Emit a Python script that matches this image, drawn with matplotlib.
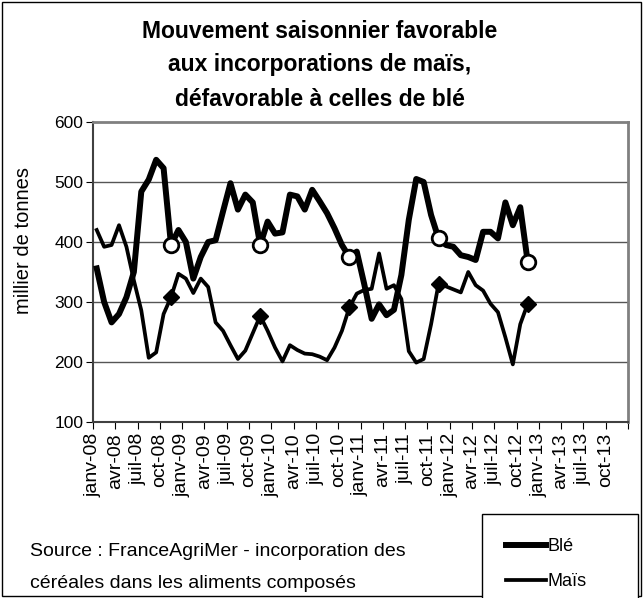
import numpy as np
import matplotlib
matplotlib.use('Agg')
from matplotlib import pyplot as plt
from matplotlib.patches import Rectangle

plt.rcParams['font.family'] = ['Liberation Sans', 'DejaVu Sans']

# monthly incorporations (thousand tonnes), janv-08 .. nov-12
ble = [356, 300, 266, 280, 308, 350, 484, 504, 537, 523, 395, 420,
       400, 339, 375, 400, 403, 451, 498, 454, 479, 466, 395, 434,
       414, 416, 479, 476, 454, 487, 468, 448, 423, 395, 375, 384,
       330, 272, 296, 278, 287, 345, 437, 505, 500, 445, 406, 395,
       392, 378, 375, 370, 417, 417, 406, 466, 428, 458, 367]
mais = [420, 392, 395, 428, 392, 336, 286, 207, 216, 280, 308, 347,
        339, 315, 339, 325, 266, 252, 228, 205, 219, 248, 277, 252,
        224, 201, 228, 220, 214, 213, 209, 203, 224, 252, 291, 314,
        320, 322, 381, 322, 328, 305, 218, 199, 205, 263, 330, 326,
        321, 316, 350, 328, 319, 297, 283, 241, 196, 263, 297]

# highlighted months (novembre of each year)
mark_idx = [10, 22, 34, 46, 58]

months = ['janv', 'avr', 'juil', 'oct']
years = ['08', '09', '10', '11', '12', '13']
tick_labels = [m + '-' + y for y in years for m in months]

title_lines = ['Mouvement saisonnier favorable',
               'aux incorporations de maïs,',
               'défavorable à celles de blé']
source_lines = ['Source : FranceAgriMer - incorporation des',
                'céréales dans les aliments composés']

fig = plt.figure(figsize=(6.43, 5.98), dpi=100)
ax = fig.add_axes([93 / 643, 1 - 422 / 598, 535 / 643, 300 / 598])

x = np.arange(len(ble)) + 0.5
xm = x[mark_idx]

ax.plot(x, ble, color='black', lw=4.3, label='Blé', zorder=3)
ax.plot(x, mais, color='black', lw=2.7, label='Maïs', zorder=3)
ax.plot(xm, np.array(ble)[mark_idx], 'o', ms=10.5, mfc='white', mec='black',
        mew=2, zorder=4)
ax.plot(xm, np.array(mais)[mark_idx], 'D', ms=8.5, color='black', zorder=4)

ax.set_xlim(0, 72)
ax.set_ylim(100, 600)
ax.set_yticks(range(100, 601, 100))
ax.set_xticks(range(0, 73, 3))
ax.set_xticklabels(tick_labels + [''], rotation=90, fontsize=14)
ax.tick_params(axis='y', labelsize=12.5, direction='out', length=5, pad=2)
ax.tick_params(axis='x', direction='out', length=5, pad=3)

for v in [200, 300, 400, 500]:
    ax.axhline(v, color='#555555', lw=1, zorder=1)

for s in ['top', 'right']:
    ax.spines[s].set_color('#808080')
    ax.spines[s].set_linewidth(2)
for s in ['left', 'bottom']:
    ax.spines[s].set_color('#404040')
    ax.spines[s].set_linewidth(1.5)

ax.set_ylabel('millier de tonnes', fontsize=14.5)
ax.yaxis.set_label_coords((33 - 93) / 535, (422 - 240) / 300)

for line, yc in zip(title_lines, [31, 65, 99]):
    fig.text(320 / 643, 1 - yc / 598, line, ha='center', va='center',
             fontsize=16.5, fontweight='bold')

for line, yc in zip(source_lines, [552, 583]):
    fig.text(30 / 643, 1 - yc / 598, line, ha='left', va='center', fontsize=14)

fig.legend(loc='upper left',
           bbox_to_anchor=(482 / 643, 1 - 514 / 598 - 0.01, 156 / 643, 0.01),
           mode='expand', fontsize=13,
           frameon=True, fancybox=False, edgecolor='black', framealpha=1,
           handlelength=2.2, handletextpad=0.1, labelspacing=1.0,
           borderpad=1.35, borderaxespad=0)

# chart area border
fig.add_artist(Rectangle((0.003, 0.003), 0.994, 0.994, transform=fig.transFigure,
                         fill=False, edgecolor='black', lw=1))

plt.savefig('out.png')
